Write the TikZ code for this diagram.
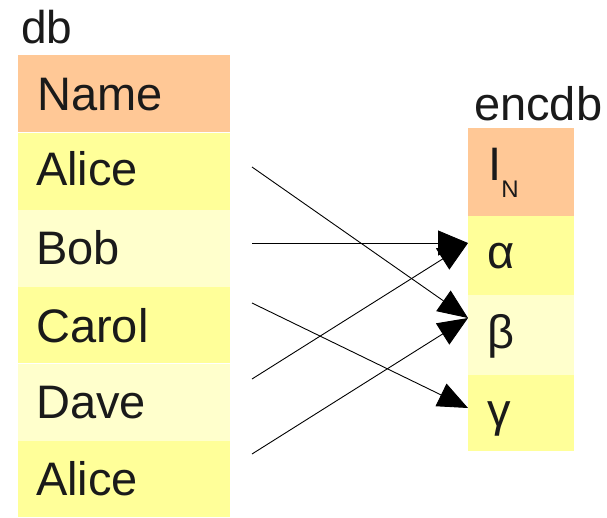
\documentclass[tikz,border=0pt]{standalone}
\usepackage{fontspec}
\setmainfont{Liberation Sans}
\usetikzlibrary{arrows.meta}
\definecolor{hdr}{RGB}{255,200,150}
\definecolor{yelA}{RGB}{255,255,153}
\definecolor{yelB}{RGB}{255,255,204}
\definecolor{txt}{RGB}{26,26,26}
\begin{document}
\begin{tikzpicture}[x=1pt,y=-1pt,
  lbl/.style={anchor=base west,inner sep=0pt,text=txt,font=\fontsize{47}{52}\selectfont},
  ttl/.style={anchor=base west,inner sep=0pt,text=txt,font=\fontsize{46}{51}\selectfont},
  link/.style={line width=0.9pt,-{Triangle[length=30pt,width=25pt]}}]
\useasboundingbox (0,0) rectangle (607,517);
% left table
\fill[hdr]  (18,55)  rectangle (230,132);
\fill[yelA] (18,133) rectangle (230,210);
\fill[yelB] (18,210) rectangle (230,287);
\fill[yelA] (18,287) rectangle (230,363);
\fill[yelB] (18,364) rectangle (230,441);
\fill[yelA] (18,441) rectangle (230,517);
\node[ttl] (db) at (21,43) {db};
\node[lbl] (name) at (37,110) {Name};
\node[lbl] (alice) at (36,185) {Alice};
\node[lbl] (bob) at (36,264) {Bob};
\node[lbl] (carol) at (36,342) {Carol};
\node[lbl] (dave) at (36,418) {Dave};
\node[lbl] (alice2) at (36,495) {Alice};
% right table
\fill[hdr]  (468,128) rectangle (574,216);
\fill[yelA] (468,216) rectangle (574,295);
\fill[yelB] (468,295) rectangle (574,375);
\fill[yelA] (468,375) rectangle (574,451);
\node[ttl,font=\fontsize{47}{52}\selectfont] (encdb) at (474,120) {encdb};
\node[lbl] (in) at (488,180) {I\raisebox{-17pt}{\fontsize{24}{26}\selectfont N}};
\node[lbl] (alpha) at (487,268) {α};
\node[lbl] (beta) at (487,348) {β};
\node[lbl] (gamma) at (487,426) {γ};
% connector ends
\coordinate (s1) at (252,167);
\coordinate (s2) at (252,243);
\coordinate (s3) at (252,303);
\coordinate (s4) at (252,379);
\coordinate (s5) at (252,454);
\coordinate (ta) at (468,243);
\coordinate (tb) at (468,318);
\coordinate (tc) at (468,408);
\draw[link] (s1) -- (tb);
\draw[link] (s2) -- (ta);
\draw[link] (s3) -- (tc);
\draw[link] (s4) -- (ta);
\draw[link] (s5) -- (tb);
\end{tikzpicture}
\end{document}
